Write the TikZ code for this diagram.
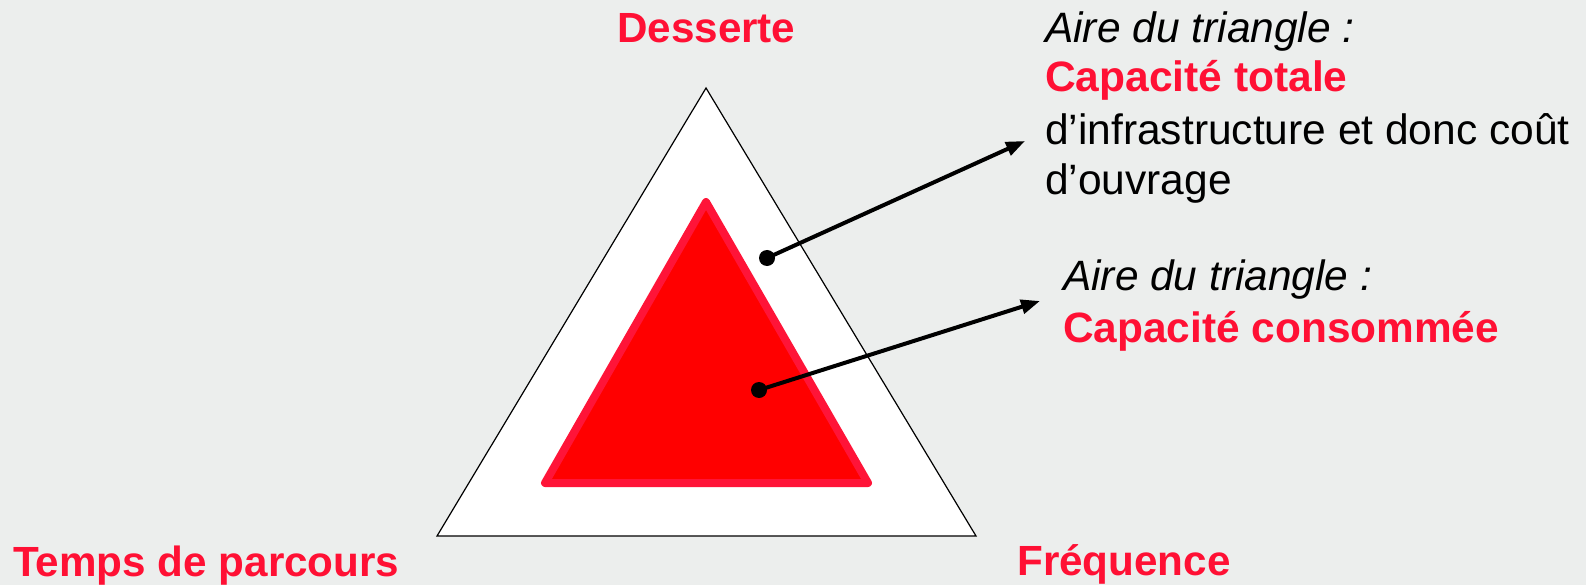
\documentclass[tikz,border=0pt]{standalone}
\usepackage{fontspec}
\setmainfont{Liberation Sans}
\usetikzlibrary{arrows.meta}
\definecolor{bg}{RGB}{236,238,237}
\definecolor{txtred}{RGB}{255,16,52}
\definecolor{edgered}{RGB}{255,20,56}
\definecolor{fillred}{RGB}{255,0,0}
\tikzset{
  corner/.style={anchor=base west, inner sep=0pt, text=txtred, font=\fontsize{42.2}{50}\selectfont\bfseries},
  lineA/.style={anchor=base west, inner sep=0pt, font=\fontsize{42.5}{51}\selectfont},
  lineB/.style={anchor=base west, inner sep=0pt, font=\fontsize{42.4}{51}\selectfont},
  pointer/.style={line width=4pt, -{Triangle[length=19pt,width=14pt]}},
  dot/.style={circle, fill=black, inner sep=0pt, minimum size=16pt}
}
\begin{document}
\begin{tikzpicture}[x=1pt,y=-1pt]
\fill[bg] (0,0) rectangle (1586,585);
\useasboundingbox (0,0) rectangle (1586,585);
% outer triangle
\draw[fill=white, line width=1.2pt, line join=miter] (706,88) -- (976,536) -- (437,536) -- cycle;
% inner triangle
\draw[fill=fillred, draw=edgered, line width=8pt, line join=round] (706,202) -- (868,483) -- (545,483) -- cycle;
% labels at corners
\node[corner] (desserte) at (617,43) {Desserte};
\node[corner] (temps) at (13,576) {Temps de parcours};
\node[corner] (freq) at (1017,575) {Fréquence};
% text block 1
\node[lineA, font=\fontsize{42.5}{51}\selectfont\itshape] (a1) at (1045,43) {Aire du triangle :};
\node[lineA, font=\fontsize{42.5}{51}\selectfont\bfseries, text=txtred] (a2) at (1045,92) {Capacité totale};
\node[lineA] (a3) at (1045,145) {d’infrastructure et donc coût};
\node[lineA] (a4) at (1045,195) {d’ouvrage};
% text block 2
\node[lineB, font=\fontsize{42.4}{51}\selectfont\itshape] (b1) at (1063,290) {Aire du triangle :};
\node[lineB, font=\fontsize{42.4}{51}\selectfont\bfseries, text=txtred] (b2) at (1063,342) {Capacité consommée};
% pointers
\node[dot] (d1) at (767,258) {};
\node[dot] (d2) at (759,390) {};
\coordinate (t1) at (1025,141);
\coordinate (t2) at (1040,301);
\draw[pointer] (d1.center) -- (t1);
\draw[pointer] (d2.center) -- (t2);
\end{tikzpicture}
\end{document}
